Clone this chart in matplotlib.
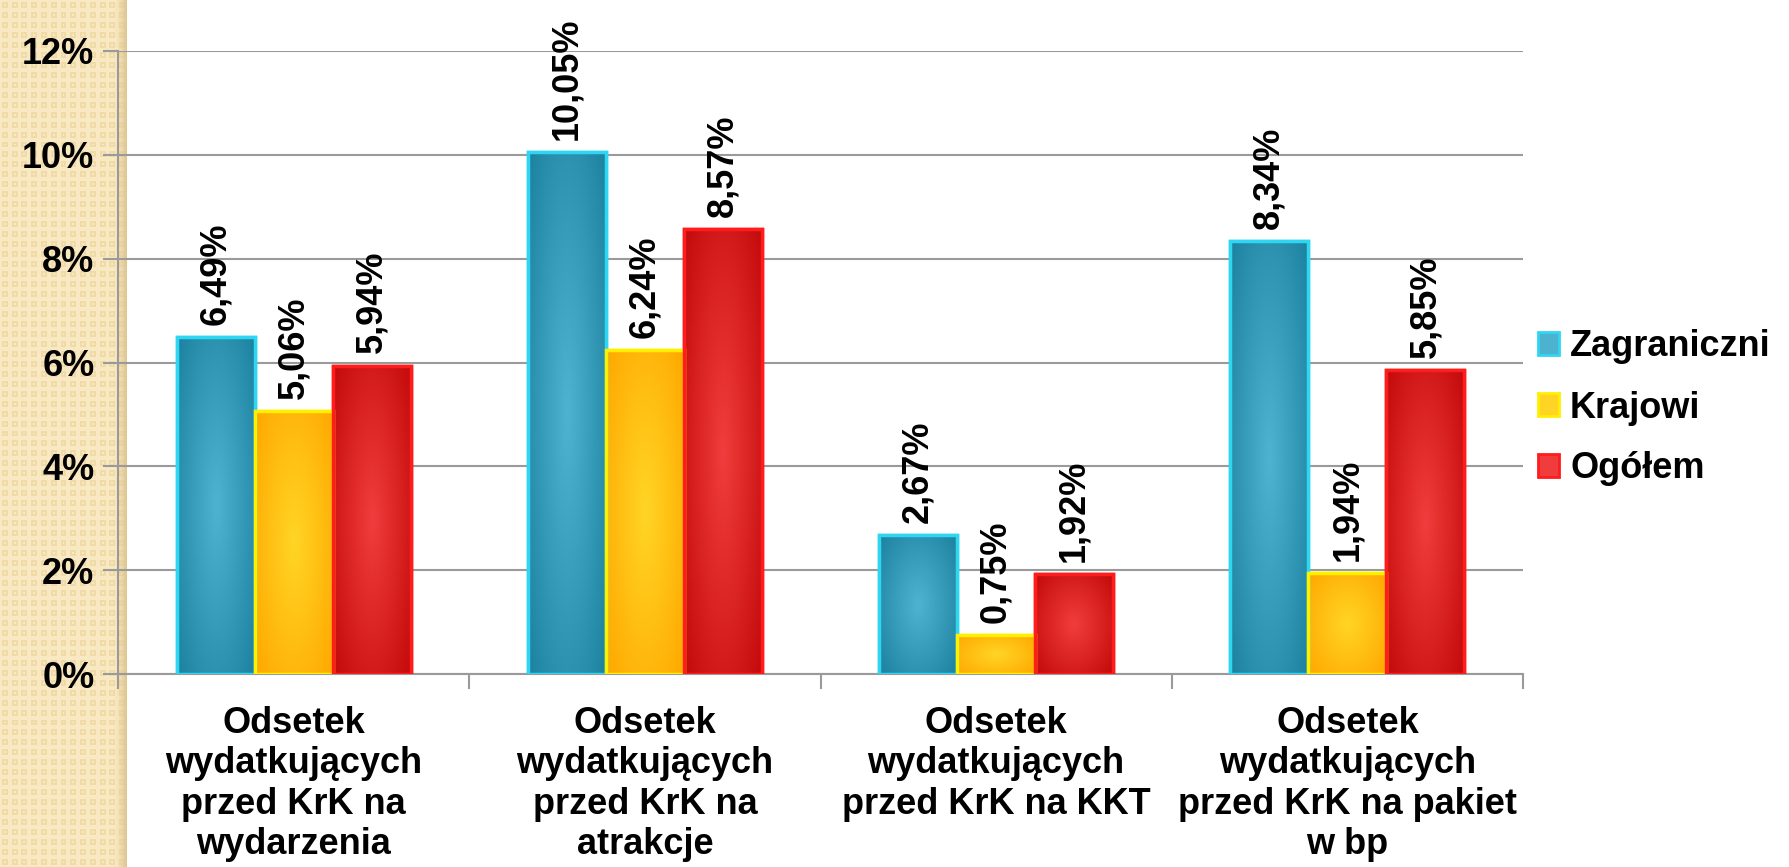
import matplotlib
matplotlib.use('Agg')
import matplotlib.pyplot as plt
import numpy as np
from matplotlib.colors import LinearSegmentedColormap
from matplotlib.patches import Patch

categories = ['Odsetek\nwydatkujących\nprzed KrK na\nwydarzenia',
              'Odsetek\nwydatkujących\nprzed KrK na\natrakcje',
              'Odsetek\nwydatkujących\nprzed KrK na KKT',
              'Odsetek\nwydatkujących\nprzed KrK na pakiet\nw bp']
series_names = ['Zagraniczni', 'Krajowi', 'Ogółem']
zagraniczni = [6.49, 10.05, 2.67, 8.34]
krajowi = [5.06, 6.24, 0.75, 1.94]
ogolem = [5.94, 8.57, 1.92, 5.85]
yticks = [0, 2, 4, 6, 8, 10, 12]

plt.rcParams['font.family'] = ['Liberation Sans', 'DejaVu Sans']
plt.rcParams['font.weight'] = 'bold'
FS = 26

# (dark, light, edge) per series
palette = [('#1d82a0', '#4cb2cf', '#2fd6f2'),
           ('#ffa800', '#ffd424', '#fff000'),
           ('#c40a0a', '#f03c3c', '#ff1c1c')]

fig = plt.figure(figsize=(17.89, 8.67), dpi=100)

# textured strip on the left
bg = fig.add_axes([0, 0, 127 / 1789, 1], zorder=-5)
tile = np.zeros((10, 10))
tile[2:8, 2:8] = 1
tile[4:6, 4:6] = 0
tex = np.tile(tile, (87, 13))
strip_cmap = LinearSegmentedColormap.from_list('strip', ['#f9e9c3', '#efdaa8'])
bg.imshow(tex, cmap=strip_cmap, aspect='auto', interpolation='nearest',
          extent=[0, 1, 0, 1])
shade = np.linspace(0, 1, 20).reshape(1, -1)
bg.imshow(shade, cmap=LinearSegmentedColormap.from_list(
    'sh', [(0.93, 0.85, 0.66, 0), (0.86, 0.76, 0.55, 0.9)]),
    aspect='auto', extent=[0.9, 1, 0, 1])
bg.set_xlim(0, 1)
bg.set_ylim(0, 1)
bg.axis('off')

ax = fig.add_axes([118 / 1789, 1 - 674 / 867, (1523 - 118) / 1789, (674 - 51) / 867])
ax.patch.set_alpha(0)

x = np.arange(len(categories))
w = 1 / 4.5
gy, gx = np.mgrid[-1:1:60j, -1:1:30j]
grad = 1 - np.clip(np.sqrt(0.55 * gx ** 2 + 0.45 * gy ** 2), 0, 1)

handles = []
for i, vals in enumerate([zagraniczni, krajowi, ogolem]):
    dark, light, edge = palette[i]
    cmap = LinearSegmentedColormap.from_list('c%d' % i, [dark, light])
    bars = ax.bar(x + (i - 1) * w, vals, width=w, color=light,
                  edgecolor=edge, linewidth=2.5, zorder=3)
    for b, v in zip(bars, vals):
        im = ax.imshow(grad, cmap=cmap, aspect='auto', zorder=3.5,
                       extent=[b.get_x(), b.get_x() + b.get_width(), 0, b.get_height()])
        im.set_clip_path(b)
        ax.add_patch(plt.Rectangle((b.get_x(), 0), b.get_width(), b.get_height(),
                                   fill=False, edgecolor=edge, linewidth=2.5, zorder=4))
        ax.annotate(('%.2f%%' % v).replace('.', ','),
                    (b.get_x() + b.get_width() / 2, v),
                    xytext=(0, 9), textcoords='offset points',
                    rotation=90, ha='center', va='bottom',
                    fontsize=FS, fontweight='bold', zorder=5)
    handles.append(Patch(facecolor=light, edgecolor=edge, linewidth=2))

ax.set_xlim(-0.5, len(categories) - 0.5)
ax.set_ylim(0, 12)
ax.set_yticks(yticks)
ax.set_yticklabels(['%d%%' % t for t in yticks], fontsize=FS, fontweight='bold')
ax.grid(axis='y', color='#9a9a9a', linewidth=1.5, zorder=0)
ax.set_axisbelow(True)

ax.set_xticks(np.arange(-0.5, len(categories)), labels=[])
ax.set_xticks(x, labels=categories, minor=True)
ax.tick_params(axis='x', which='minor', length=0, pad=23)
ax.tick_params(axis='x', which='major', length=11, width=1.5, color='#9a9a9a')
ax.tick_params(axis='y', length=11, width=1.5, color='#9a9a9a', pad=6)
for lab in ax.get_xticklabels(minor=True):
    lab.set_fontsize(FS)
    lab.set_fontweight('bold')
    lab.set_linespacing(1.2)
    lab.set_va('top')

for s in ['top', 'right']:
    ax.spines[s].set_visible(False)
for s in ['left', 'bottom']:
    ax.spines[s].set_color('#9a9a9a')
    ax.spines[s].set_linewidth(1.5)

fig.legend(handles, series_names, loc='center left',
           bbox_to_anchor=(1505 / 1789, 1 - 408 / 867), frameon=False,
           prop={'size': FS, 'weight': 'bold'}, handlelength=0.6,
           handleheight=0.6, handletextpad=0.3, labelspacing=0.72)

fig.savefig('out.png', dpi=100)
